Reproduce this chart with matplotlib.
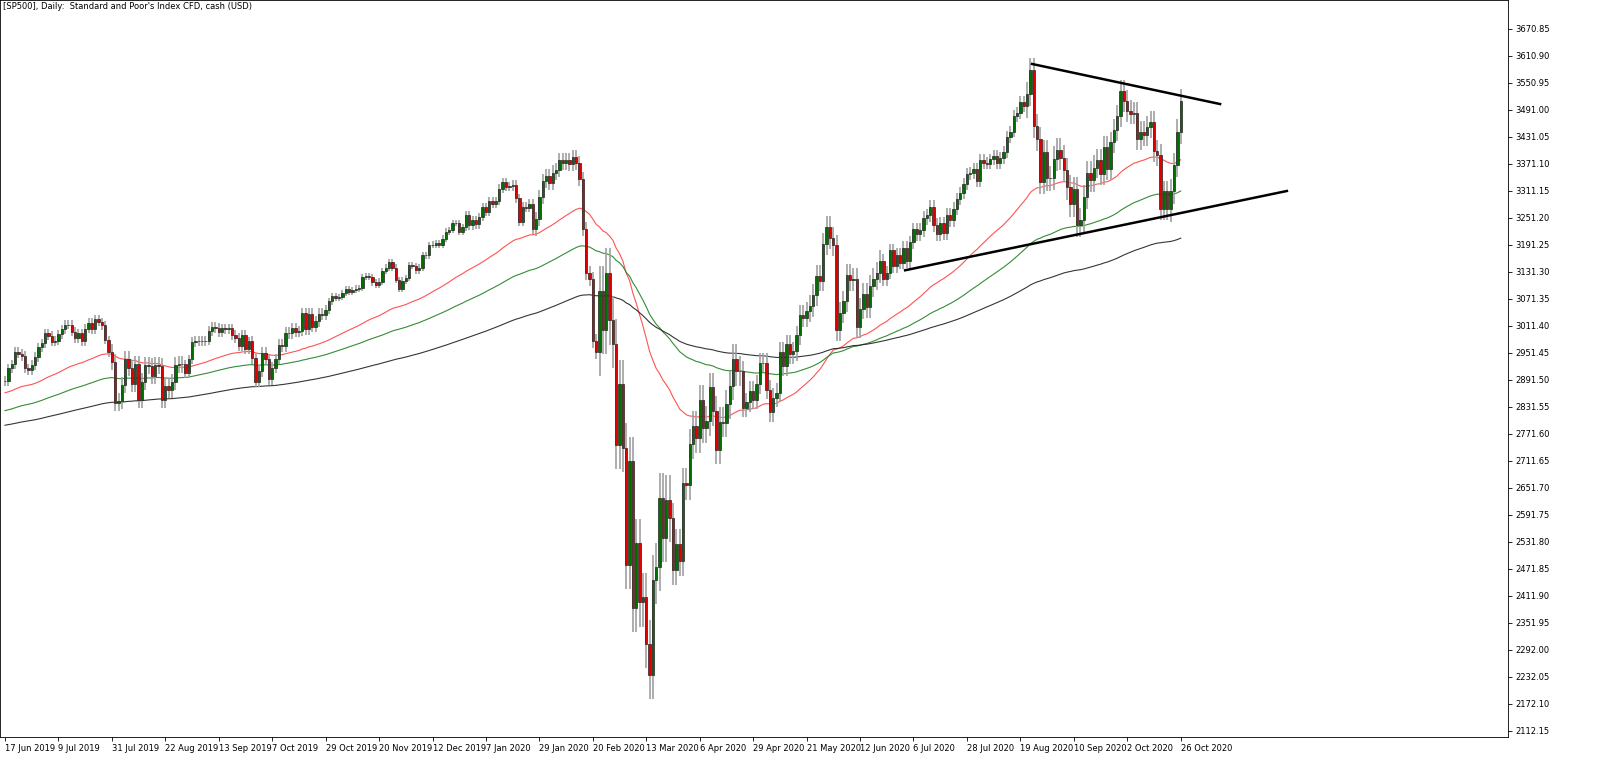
import matplotlib
matplotlib.use("Agg")
import matplotlib.pyplot as plt
import numpy as np

closes = [
 2889,2917,2926,2954,2950,2945,2917,2913,2924,2942,
 2964,2973,2996,2990,2976,2979,2993,3004,3014,3014,2999,2984,2995,2977,3005,3019,3004,3026,3020,3013,2980,2953,
 2932,2840,2844,2881,2938,2918,2883,2926,2847,2888,2924,2923,2900,2924,2922,2847,2878,2869,2887,2924,2926,2926,
 2906,2937,2976,2978,2979,2978,2979,3000,3009,3007,2997,3006,3005,3006,2992,2984,2966,2991,2961,2977,
 2940,2887,2911,2952,2938,2893,2919,2938,2970,2966,2996,2995,3006,2998,3000,3040,3004,3039,3009,3022,3039,3036,3046,
 3066,3078,3074,3076,3085,3093,3087,3091,3094,3096,3120,3122,3120,3108,3103,3110,3133,3141,3153,3141,
 3113,3094,3112,3118,3146,3145,3135,3141,3169,3168,3191,3192,3196,3191,3205,3221,3224,3240,3240,3221,3231,
 3258,3235,3246,3237,3253,3275,3265,3289,3283,3289,3316,3330,3320,3321,3325,3295,3243,3276,3273,3283,3226,
 3249,3298,3334,3345,3328,3352,3358,3379,3373,3380,3370,3386,3373,3338,3226,3128,3116,2979,2954,
 3090,3003,3130,3024,2972,2747,2882,2741,2481,2711,2386,2529,2398,2409,2305,2237,2448,2476,2630,2541,2626,2585,
 2470,2527,2489,2663,2659,2750,2790,2762,2847,2784,2800,2875,2823,2737,2799,2797,2837,2879,2939,2912,2912,
 2830,2842,2868,2848,2882,2930,2930,2870,2820,2852,2863,2954,2922,2971,2948,2955,2991,3036,3029,3044,
 3055,3080,3122,3112,3193,3232,3207,3190,3002,3041,3066,3124,3113,3115,3009,3050,3083,3053,3100,3115,3130,3155,
 3115,3130,3179,3145,3169,3152,3185,3155,3197,3226,3215,3224,3251,3257,3276,3235,3215,3239,3218,3258,3246,3271,
 3294,3306,3327,3349,3351,3360,3333,3380,3373,3372,3381,3389,3374,3385,3397,3431,3443,3478,3484,3508,3500,
 3526,3580,3455,3426,3331,3398,3339,3340,3383,3401,3385,3357,3319,3281,3315,3236,3246,3298,3351,3335,3363,
 3380,3348,3408,3360,3419,3446,3477,3534,3511,3488,3483,3484,3426,3443,3435,3453,3465,3400,3391,3271,3310,3270,
 3310,3369,3443,3510,
]
first_open = 2890
# typical wick size by month (Jun19..Nov20)
month_wick = [18,16,30,18,20,12,12,16,26,90,55,35,40,25,22,45,40,45]
month_len = [10,22,22,20,23,20,21,21,19,22,21,20,22,22,21,21,22,4]

# moving averages: (period, value at first bar, colour)
ma_specs = [(50, 2862, "#ff4040"), (100, 2822, "#208020"), (200, 2790, "#202020")]

xlabels = ["17 Jun 2019","9 Jul 2019","31 Jul 2019","22 Aug 2019","13 Sep 2019","7 Oct 2019",
           "29 Oct 2019","20 Nov 2019","12 Dec 2019","7 Jan 2020","29 Jan 2020","20 Feb 2020",
           "13 Mar 2020","6 Apr 2020","29 Apr 2020","21 May 2020","12 Jun 2020","6 Jul 2020",
           "28 Jul 2020","19 Aug 2020","10 Sep 2020","2 Oct 2020","26 Oct 2020"]
yticks = [3670.85,3610.90,3550.95,3491.00,3431.05,3371.10,3311.15,3251.20,3191.25,3131.30,3071.35,
          3011.40,2951.45,2891.50,2831.55,2771.60,2711.65,2651.70,2591.75,2531.80,2471.85,2411.90,
          2351.95,2292.00,2232.05,2172.10,2112.15]
upper_line = [(307.5, 3593), (363.8, 3504)]
lower_line = [(269.5, 3135), (383.8, 3311)]

c = np.array(closes, float)
o = np.concatenate([[first_open], c[:-1]])
w = np.repeat(month_wick, month_len)[:len(c)]
hi = np.maximum(o, c) + w * 0.6
lo = np.minimum(o, c) - w * 0.6
x = np.arange(len(c))

fig = plt.figure(figsize=(16, 7.67), dpi=100)
ax = fig.add_axes([0.0, 30/767, 1508/1600, 1 - 30/767])
ax.set_xlim(-1.5, 450)
ax.set_ylim(2098.8, 3735)

for period, start, col in ma_specs:
    a = 2.0 / (period + 1)
    m = np.empty_like(c)
    prev = start
    for i, v in enumerate(c):
        prev = prev + a * (v - prev)
        m[i] = prev
    ax.plot(x, m, color=col, lw=0.8, alpha=0.9, zorder=2)

up = c >= o
ax.vlines(x, lo, hi, color="#a0a0a0", lw=1.2, zorder=3)
ax.bar(x[up], (c - o)[up], bottom=o[up], width=0.7, color="#007000", edgecolor="#222222", lw=0.5, zorder=4)
ax.bar(x[~up], (o - c)[~up], bottom=c[~up], width=0.7, color="#e00000", edgecolor="#222222", lw=0.5, zorder=4)

for ln in (upper_line, lower_line):
    ax.plot([ln[0][0], ln[1][0]], [ln[0][1], ln[1][1]], color="black", lw=1.8, zorder=5)

ax.yaxis.tick_right()
ax.set_yticks(yticks)
ax.set_yticklabels([f"{v:.2f}" for v in yticks], fontsize=6)
ax.set_xticks([i * 16 for i in range(len(xlabels))])
ax.set_xticklabels(xlabels, fontsize=6, ha="left")
ax.tick_params(length=3, width=0.6, pad=2)
for sp in ax.spines.values():
    sp.set_linewidth(0.6)
ax.text(0.002, 0.997, "[SP500], Daily:  Standard and Poor's Index CFD, cash (USD)",
        transform=ax.transAxes, fontsize=6, va="top", ha="left")
fig.savefig("out.png", dpi=100)
